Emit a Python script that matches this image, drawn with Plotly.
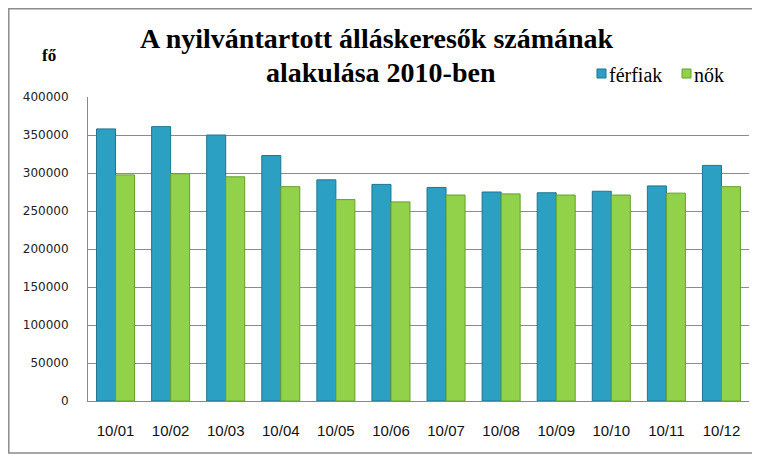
import plotly.graph_objects as go

categories = ["10/01", "10/02", "10/03", "10/04", "10/05", "10/06",
              "10/07", "10/08", "10/09", "10/10", "10/11", "10/12"]
ferfiak = [358000, 361000, 350000, 323000, 291000, 285000,
           281000, 275000, 274000, 276000, 283000, 310000]
nok = [297500, 299000, 295000, 282000, 265000, 262000,
       271000, 272500, 271000, 271000, 273500, 282000]
y_ticks = [0, 50000, 100000, 150000, 200000, 250000, 300000, 350000, 400000]
series_names = ["férfiak", "nők"]
series_colors = ["#2CA0C2", "#92D14A"]
series_edges = ["#1D7591", "#64A02C"]
title_lines = ["A nyilvántartott álláskeresők számának", "alakulása 2010-ben"]
y_unit = "fő"

OFF = 8  # page body margin
W, H = 760 - OFF, 459 - OFF
L, R, T, B = 88 - OFF, 749 - OFF, 97 - OFF, 401 - OFF
def px(x): return (x - OFF - L) / (R - L)   # x given in screen pixels
def py(y): return (B - (y - OFF)) / (B - T)  # y given in screen pixels

fig = go.Figure()
for name, vals, col, edge in zip(series_names, [ferfiak, nok], series_colors, series_edges):
    fig.add_trace(go.Bar(name=name, x=categories, y=vals,
                         marker=dict(color=col, line=dict(color=edge, width=1))))

fig.update_layout(
    width=W, height=H,
    margin=dict(l=L, r=W - R, t=T, b=H - B, autoexpand=False),
    paper_bgcolor="white", plot_bgcolor="white",
    barmode="group", bargap=0.31, bargroupgap=0.0,
    showlegend=False,
    font=dict(family="Liberation Serif", color="#000"),
)
fig.update_xaxes(type="category", showline=True, linecolor="#888", linewidth=1,
                 ticks="", tickfont=dict(family="Liberation Sans", size=15, color="#111"),
                 ticklabelstandoff=16)
fig.update_yaxes(range=[0, 400000], tickvals=y_ticks, ticktext=[str(v) for v in y_ticks],
                 showgrid=True, gridcolor="#8C8C8C", gridwidth=1, zeroline=False,
                 showline=True, linecolor="#888", linewidth=1,
                 ticks="", tickfont=dict(family="DejaVu Sans", size=12, color="#222"),
                 ticklabelstandoff=16)

fig.add_shape(type="rect", xref="paper", yref="paper",
              x0=px(8.8), x1=px(754), y0=py(453), y1=py(8.8),
              line=dict(color="#8C8C8C", width=1.5), fillcolor="rgba(0,0,0,0)", layer="below")

for txt, cx, cy in zip(title_lines, [377, 381], [38, 72]):
    fig.add_annotation(xref="paper", yref="paper", x=px(cx), y=py(cy),
                       xanchor="center", yanchor="middle",
                       text="<b>" + txt + "</b>", showarrow=False,
                       font=dict(family="Liberation Serif", size=28, color="#000"))
fig.add_annotation(xref="paper", yref="paper", x=px(49), y=py(55), xanchor="center", yanchor="middle",
                   text="<b>" + y_unit + "</b>", showarrow=False,
                   font=dict(family="Liberation Serif", size=17, color="#000"))

# legend (manual, compact like the original)
leg_x = [597, 682]
for lx, name, col, edge in zip(leg_x, series_names, series_colors, series_edges):
    fig.add_shape(type="rect", xref="paper", yref="paper",
                  x0=px(lx), x1=px(lx + 9), y0=py(78), y1=py(69),
                  fillcolor=col, line=dict(color=edge, width=1))
    fig.add_annotation(xref="paper", yref="paper", x=px(lx + 10), y=py(75),
                       xanchor="left", yanchor="middle", text=name, showarrow=False,
                       font=dict(family="Liberation Serif", size=20, color="#000"))

fig.write_html("out.html")
